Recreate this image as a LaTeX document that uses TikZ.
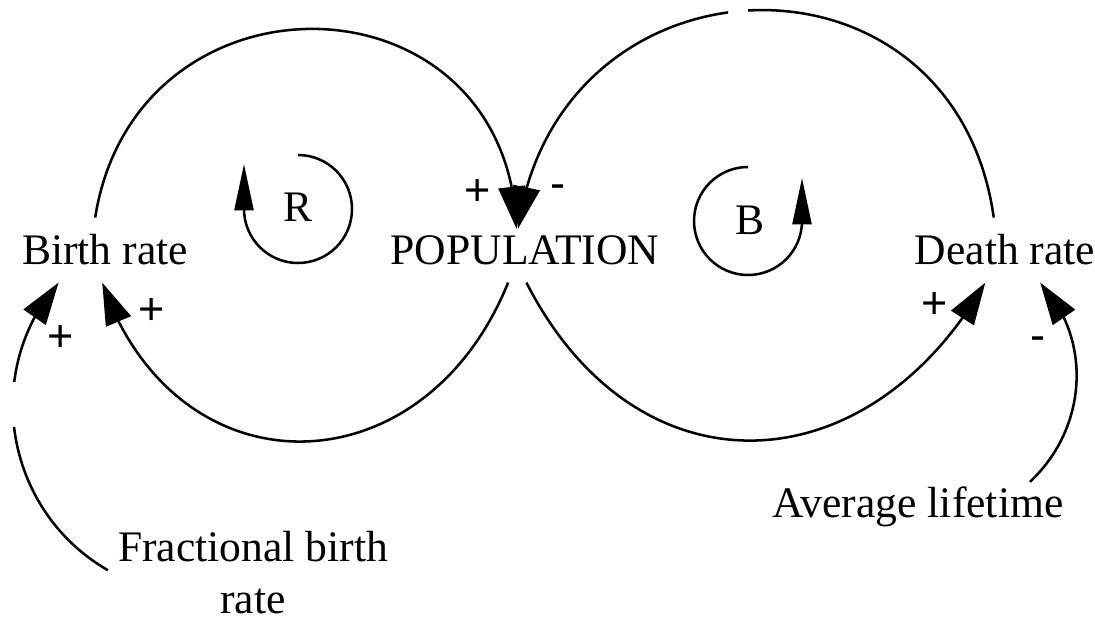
\documentclass[tikz,border=0pt]{standalone}
\usepackage{fontspec}
\setmainfont{Liberation Serif}
\newfontfamily\signfamily{Liberation Sans}
\usepackage{tikz}
\usetikzlibrary{arrows.meta,bending}

\newcommand{\causefont}{\fontsize{31}{37}\selectfont}
\newcommand{\signfont}{\signfamily\fontsize{32}{36}\selectfont}

\begin{document}
\begin{tikzpicture}[x=0.025cm, y=0.025cm,
    var/.style={font=\causefont, inner xsep=2pt, inner ysep=12pt},
    sgn/.style={font=\signfont, inner sep=0pt},
    link/.style={-{Triangle[length=30pt,width=19pt]}, line width=1.8pt},
    loopmark/.style={-{Triangle[length=33pt,width=13.5pt]}, line width=1.8pt}]
    \useasboundingbox (0,0) rectangle (1095,624);
    \begin{scope}[even odd rule]
    \clip (0,0) rectangle (1095,624)
        (20,197) rectangle (0,242) (748,606) rectangle (728,624);

    % Nodes
    \node[var, anchor=base] (birth) at (105,359) {Birth rate};
    \node[var, anchor=base] (pop) at (525,359) {POPULATION};
    \node[var, anchor=base] (death) at (1005,359) {Death rate};
    \node[var, anchor=base] (life) at (918,107) {Average lifetime};
    \node[var, anchor=north, align=center] (frac) at (253,110) {Fractional birth\\rate};
    \node[font=\causefont] (R) at (298,417) {R};
    \node[font=\causefont] (B) at (750,404) {B};

    % Links
    \draw[link] ([xshift=-7pt]birth.north) to[out=81, in=92, looseness=1.58] ([xshift=-6pt,yshift=-7pt]pop.north);
    \draw[link] ([xshift=-8pt]death.north) to[out=98, in=82, looseness=1.54] ([xshift=-5pt,yshift=-7pt]pop.north);
    \draw[link] ([xshift=-12pt]pop.south) to[out=-112, in=-71, looseness=1.43] ([xshift=-2pt]birth.south);
    \draw[link] ([xshift=1pt]pop.south) to[out=-63, in=-120, looseness=1.34] ([xshift=-14pt]death.south);
    \draw[link] ([xshift=-5pt,yshift=-40pt]frac.north west) to[out=150, in=-131, looseness=1.04] ([xshift=-33pt]birth.south);
    \draw[link] ([xshift=-26pt,yshift=-9pt]life.north east) to[out=43, in=-47] ([xshift=25pt]death.south);

    % Polarities
    \node[sgn] (plusBP) at (478,431) {+};
    \node[sgn] (minusDP) at (558,432) {-};
    \node[sgn] (plusPB) at (152,312) {+};
    \node[sgn] (plusFB) at (61,285) {+};
    \node[sgn] (plusPD) at (935,318) {+};
    \node[sgn] (minusLD) at (1038,280) {-};

    % Loop marks
    \draw[loopmark] (R) ++(0,52) arc[start angle=90, end angle=-180, radius=54] -- ++(0,45);
    \draw[loopmark] (B) ++(-2,53) arc[start angle=90, end angle=360, radius=54] -- ++(0,43);
    \end{scope}
\end{tikzpicture}
\end{document}
